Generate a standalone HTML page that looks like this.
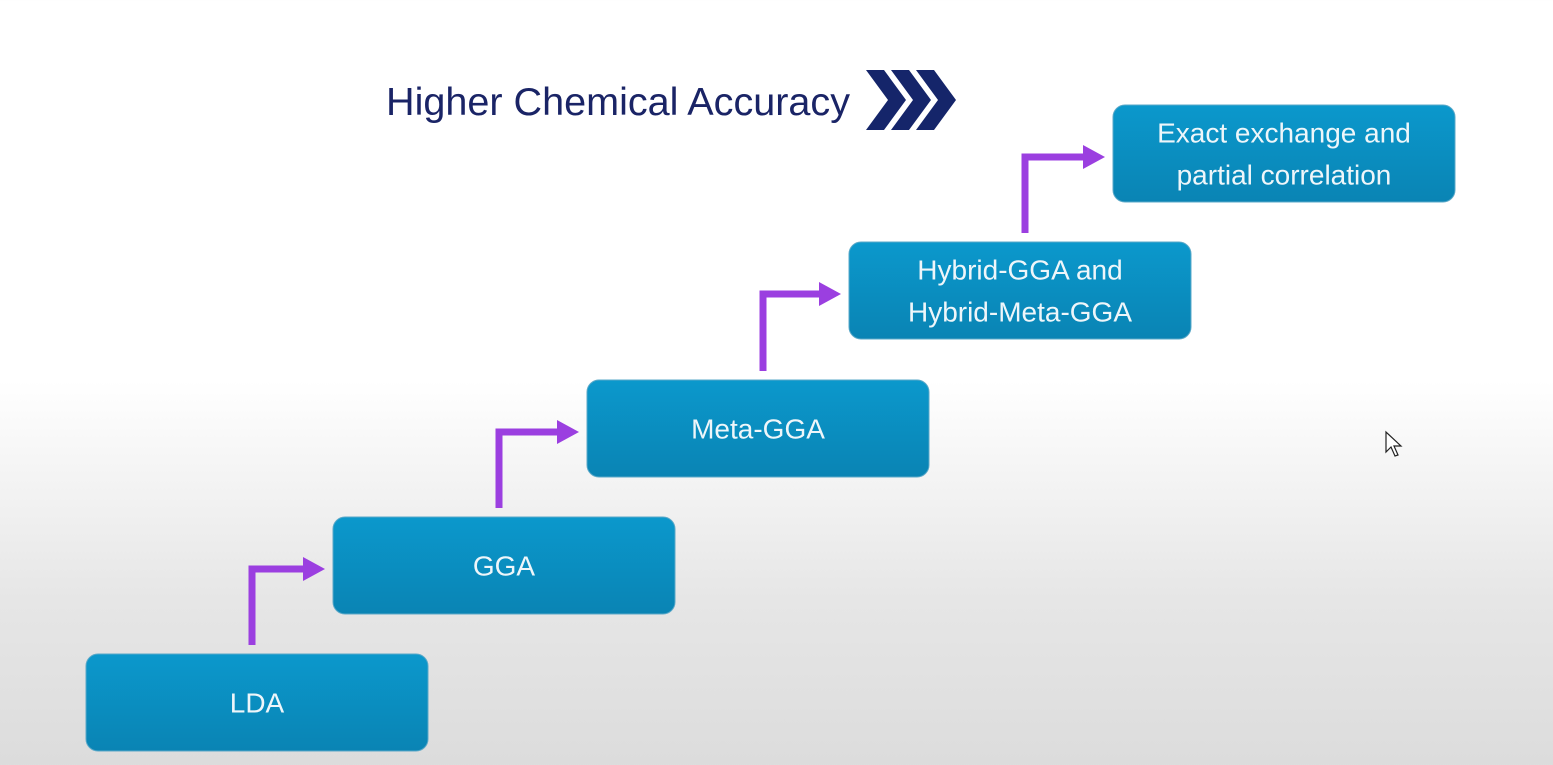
<!DOCTYPE html>
<html><head><meta charset="utf-8"><style>
html,body{margin:0;padding:0;width:1553px;height:765px;overflow:hidden;}
body{background:linear-gradient(to bottom,#ffffff 0px,#ffffff 380px,#e6e6e6 600px,#dcdcdc 765px);font-family:"Liberation Sans",sans-serif;}
</style></head><body>
<svg width="1553" height="765" xmlns="http://www.w3.org/2000/svg">
<defs>
<linearGradient id="bx" x1="0" y1="0" x2="0" y2="1"><stop offset="0" stop-color="#0b98cc"/><stop offset="1" stop-color="#0a84b4"/></linearGradient>
</defs>
<text x="386" y="115" font-family="Liberation Sans, sans-serif" font-size="39" textLength="464" lengthAdjust="spacingAndGlyphs" fill="#1a2466">Higher Chemical Accuracy</text>
<g fill="#15256a">
<polygon points="866,70 884,70 906,100 884,130 866,130 888,100"/>
<polygon points="891,70 909,70 931,100 909,130 891,130 913,100"/>
<polygon points="916,70 934,70 956,100 934,130 916,130 938,100"/>
</g>
<g id="steps"></g>
<g><polygon points="1386,432 1386,452 1391,447 1395,456 1398,455 1394,446 1401,446" fill="#fff" stroke="#222" stroke-width="1.2"/></g>
</svg>
<script>
const labels=[["LDA"],["GGA"],["Meta-GGA"],["Hybrid-GGA and","Hybrid-Meta-GGA"],["Exact exchange and","partial correlation"]];
const boxX=[86,333,587,849,1113];
const boxY=[654,517,380,242,105];
const g=document.getElementById('steps');
const NS="http://www.w3.org/2000/svg";
for(let i=0;i<labels.length;i++){
  const r=document.createElementNS(NS,'rect');
  
  
  r.setAttribute('x',boxX[i]);r.setAttribute('y',boxY[i]);
  r.setAttribute('width',342);r.setAttribute('height',97);
  r.setAttribute('rx',12);r.setAttribute('fill','url(#bx)');
  r.setAttribute('stroke','#5aa8c8');r.setAttribute('stroke-width','1');
  g.appendChild(r);
  const n=labels[i].length;
  labels[i].forEach((s,k)=>{
    const t=document.createElementNS(NS,'text');
    
    
    t.setAttribute('x',boxX[i]+171);
    t.setAttribute('y',boxY[i]+48.5+(k-(n-1)/2)*42+10);
    t.setAttribute('text-anchor','middle');
    t.setAttribute('font-size','28');
    t.setAttribute('fill','#eef6fa');
    t.textContent=s;
    g.appendChild(t);
  });
  if(i>0){
    const ax=boxX[i-1]+(i<3?166:176), top=boxY[i]+52, bot=boxY[i-1]-9, hx=boxX[i]-8;
    const p=document.createElementNS(NS,'path');
    
    
    p.setAttribute('d',`M${ax},${bot} L${ax},${top} L${hx-18},${top}`);
    p.setAttribute('fill','none');p.setAttribute('stroke','#9b3fe0');p.setAttribute('stroke-width','7');
    g.appendChild(p);
    const h=document.createElementNS(NS,'polygon');
    
    
    h.setAttribute('points',`${hx-22},${top-12} ${hx},${top} ${hx-22},${top+12}`);
    h.setAttribute('fill','#9b3fe0');
    g.appendChild(h);
  }
}
</script>
</body></html>
